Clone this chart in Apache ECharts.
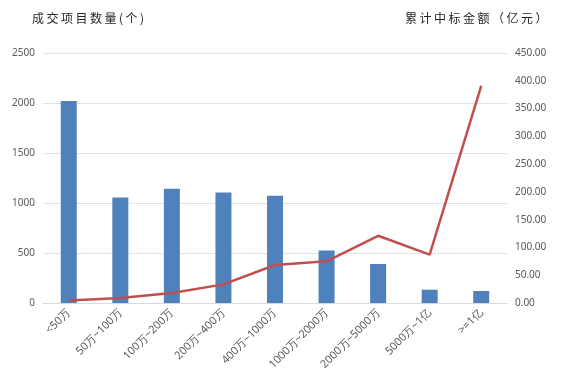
<!DOCTYPE html>
<html><head><meta charset="utf-8">
<script src="https://cdn.jsdelivr.net/npm/echarts@6/dist/echarts.min.js"></script>
<style>html,body{margin:0;padding:0;background:#fff}#c{width:575px;height:380px}</style>
</head><body><div id="c"></div>
<script>
const categories = ['<50万','50万~100万','100万~200万','200万~400万','400万~1000万','1000万~2000万','2000万~5000万','5000万~1亿','>=1亿'];
const projectCounts = [2020, 1056, 1143, 1106, 1073, 526, 390, 133, 120];
const cumulativeAmounts = [4.7, 9, 18, 33.5, 68.4, 75, 121, 87, 391];
const leftTitle = '成交项目数量(个)';
const rightTitle = '累计中标金额（亿元）';

const titleFont = '12px "Noto Sans CJK SC"';
const mctx = document.createElement('canvas').getContext('2d');
mctx.font = titleFont;
function spacedText(str, x0, y0, spacing) {
  const els = [];
  let x = x0;
  for (const ch of str) {
    els.push({type: 'text', x: x, y: y0, style: {text: ch, font: titleFont, fill: '#262626', textVerticalAlign: 'middle'}});
    x += mctx.measureText(ch).width + spacing;
  }
  return els;
}

const chart = echarts.init(document.getElementById('c'), null, {renderer: 'canvas'});
const lblFont = 'Noto Sans';
chart.setOption({
  animation: false,
  backgroundColor: '#fff',
  grid: {left: 43, right: 68, top: 53, bottom: 77, containLabel: false},
  graphic: [].concat(spacedText(leftTitle, 32, 18, 2.5), spacedText(rightTitle, 405, 18, 2.5)),
  xAxis: {
    type: 'category', data: categories,
    axisLine: {lineStyle: {color: '#d9d9d9', width: 1}},
    axisTick: {show: false},
    axisLabel: {rotate: 45, fontSize: 11, color: '#595959', fontFamily: lblFont, margin: 8, interval: 0}
  },
  yAxis: [
    {type: 'value', min: 0, max: 2500, interval: 500,
     axisLine: {show: false}, axisTick: {show: false},
     splitLine: {lineStyle: {color: '#e3e3e3', width: 1}},
     axisLabel: {fontSize: 10, color: '#595959', fontFamily: lblFont, margin: 8,
       formatter: v => String(v)}},
    {type: 'value', min: 0, max: 450, interval: 50,
     axisLine: {show: false}, axisTick: {show: false}, splitLine: {show: false},
     axisLabel: {fontSize: 10, color: '#595959', fontFamily: lblFont, margin: 8,
       formatter: v => v.toFixed(2)}}
  ],
  series: [
    {type: 'bar', data: projectCounts, yAxisIndex: 0, barWidth: 16,
     itemStyle: {color: '#4F81BD'}},
    {type: 'line', data: cumulativeAmounts, yAxisIndex: 1, symbol: 'none',
     lineStyle: {color: '#C0504D', width: 2.5}, itemStyle: {color: '#C0504D'}}
  ]
});
</script></body></html>
